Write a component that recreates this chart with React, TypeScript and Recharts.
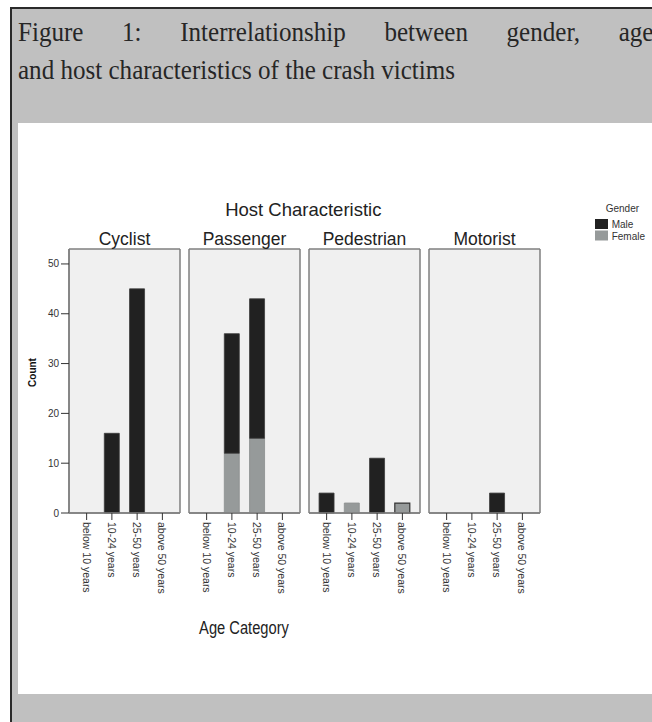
import React from "react";
import { BarChart, Bar, XAxis, YAxis, CartesianGrid, Cell } from "recharts";

const hosts = ["Cyclist", "Passenger", "Pedestrian", "Motorist"];
const ageCategories = ["below 10 years", "10-24 years", "25-50 years", "above 50 years"];
// counts per host, in age category order
const maleCounts = [
  [0, 16, 45, 0],
  [0, 24, 28, 0],
  [4, 0, 11, 0],
  [0, 0, 4, 0],
];
const femaleCounts = [
  [0, 0, 0, 0],
  [0, 12, 15, 0],
  [0, 2, 0, 2],
  [0, 0, 0, 0],
];
const yTicks = [0, 10, 20, 30, 40, 50];
const genders = ["Male", "Female"];

const MALE = "#212121";
const FEMALE = "#969a9a";
const FRAME = "#7f7f7f";
const TEXT = "#333";

const PLOT_W = 111;
const PLOT_H = 264;
const TOP = 29;
const X_AXIS_H = 85;
const PITCH = 120;

const AgeTick = (props: any) => {
  const { x, y, payload } = props;
  return (
    <text
      x={x}
      y={y}
      transform={`rotate(90, ${x}, ${y})`}
      textAnchor="start"
      dominantBaseline="central"
      fontSize={10.5}
      fill={TEXT}
    >
      {payload.value}
    </text>
  );
};

// frame lines along the edges of the plot area
const frameRows = ({ offset }: any) => [offset.top, offset.top + offset.height];
const frameCols = ({ offset }: any) => [offset.left, offset.left + offset.width];

const Panel = ({ index }: { index: number }) => {
  const first = index === 0;
  const data = ageCategories.map((age, i) => ({
    age,
    male: maleCounts[index][i],
    female: femaleCounts[index][i],
  }));
  const left = first ? 69 : 5;
  const width = left + PLOT_W + 5;
  return (
    <div
      style={{
        position: "absolute",
        left: first ? 0 : 69 + PITCH * index - 5,
        top: 220,
      }}
    >
      <BarChart
        width={width}
        height={TOP + PLOT_H + X_AXIS_H}
        data={data}
        margin={{ top: TOP, right: 5, bottom: 0, left: first ? 0 : 5 }}
        barCategoryGap="20%"
      >
        <CartesianGrid
          fill="#f0f0f0"
          stroke={FRAME}
          strokeWidth={1.5}
          horizontalCoordinatesGenerator={frameRows}
          verticalCoordinatesGenerator={frameCols}
        />
        <XAxis
          dataKey="age"
          interval={0}
          height={X_AXIS_H}
          padding={{ left: 5, right: 5 }}
          tick={<AgeTick />}
          tickSize={7}
          tickMargin={2}
          tickLine={{ stroke: TEXT }}
          axisLine={{ stroke: FRAME, strokeWidth: 1.5 }}
        />
        <YAxis
          domain={[0, 53]}
          ticks={yTicks}
          width={first ? 69 : 0}
          tick={first ? { fontSize: 10, fill: TEXT } : false}
          tickLine={first ? { stroke: TEXT } : false}
          tickSize={8}
          tickMargin={2}
          axisLine={{ stroke: FRAME, strokeWidth: 1.5 }}
        />
        <Bar dataKey="female" name="Female" stackId="g" fill={FEMALE} stroke="#8a8e8e" strokeWidth={0.8} isAnimationActive={false}>
          {data.map((d, i) => (
            <Cell
              key={d.age}
              stroke={hosts[index] === "Pedestrian" && i === 3 ? "#333" : "#8a8e8e"}
              strokeWidth={hosts[index] === "Pedestrian" && i === 3 ? 1.2 : 0.8}
            />
          ))}
        </Bar>
        <Bar dataKey="male" name="Male" stackId="g" fill={MALE} stroke="#3c3c3c" strokeWidth={0.8} isAnimationActive={false} />
      </BarChart>
    </div>
  );
};

export default function App() {
  const colors = [MALE, FEMALE];
  return (
    <div style={{ position: "absolute", left: 0, top: 0, width: 652, height: 722, background: "#fff", overflow: "hidden" }}>
      <div
        style={{
          position: "absolute",
          left: 10,
          top: 7,
          width: 642,
          height: 715,
          background: "#c0c0c0",
          borderTop: "2px solid #2a2a2a",
          borderLeft: "2px solid #2a2a2a",
          boxSizing: "border-box",
        }}
      />
      <div
        style={{
          position: "absolute",
          left: 18,
          top: 13.4,
          fontFamily: "'Liberation Serif', serif",
          fontSize: 28,
          lineHeight: "37.7px",
          color: "#262626",
          transform: "scaleX(0.895)",
          transformOrigin: "0 0",
          whiteSpace: "nowrap",
        }}
      >
        <div style={{ width: 710, textAlign: "justify", textAlignLast: "justify" }}>
          Figure 1: Interrelationship between gender, age
        </div>
        <div>and host characteristics of the crash victims</div>
      </div>
      <div style={{ position: "absolute", left: 18, top: 123, width: 634, height: 571, background: "#fff" }} />
      <div style={{ position: "absolute", left: 0, top: 0, fontFamily: "'Liberation Sans', Arial, sans-serif" }}>
        {hosts.map((h, i) => (
          <Panel key={h} index={i} />
        ))}
        <svg width={652} height={722} style={{ position: "absolute", left: 0, top: 0, pointerEvents: "none" }}>
          <text x={303.3} y={215.7} textAnchor="middle" fontSize={18.5} fill="#222">
            Host Characteristic
          </text>
          {hosts.map((h, i) => (
            <text key={h} x={69 + PITCH * i + PLOT_W / 2} y={245} textAnchor="middle" fontSize={17.5} fill="#222">
              {h}
            </text>
          ))}
          <text
            x={32}
            y={372.5}
            transform="rotate(-90, 32, 372.5)"
            textAnchor="middle"
            dominantBaseline="central"
            fontSize={10}
            fontWeight="bold"
            fill="#111"
          >
            Count
          </text>
          <g transform="translate(244, 633.5) scale(0.84, 1)">
            <text x={0} y={0} textAnchor="middle" fontSize={17.5} fill="#222">
              Age Category
            </text>
          </g>
          <text x={605.7} y={211.5} fontSize={10} fill={TEXT}>
            Gender
          </text>
          {genders.map((g, i) => (
            <g key={g}>
              <rect x={595} y={219 + i * 11.5} width={13} height={10} fill={colors[i]} />
              <text x={611.7} y={228.3 + i * 11.4} fontSize={10} fill={TEXT}>
                {g}
              </text>
            </g>
          ))}
        </svg>
      </div>
    </div>
  );
}
